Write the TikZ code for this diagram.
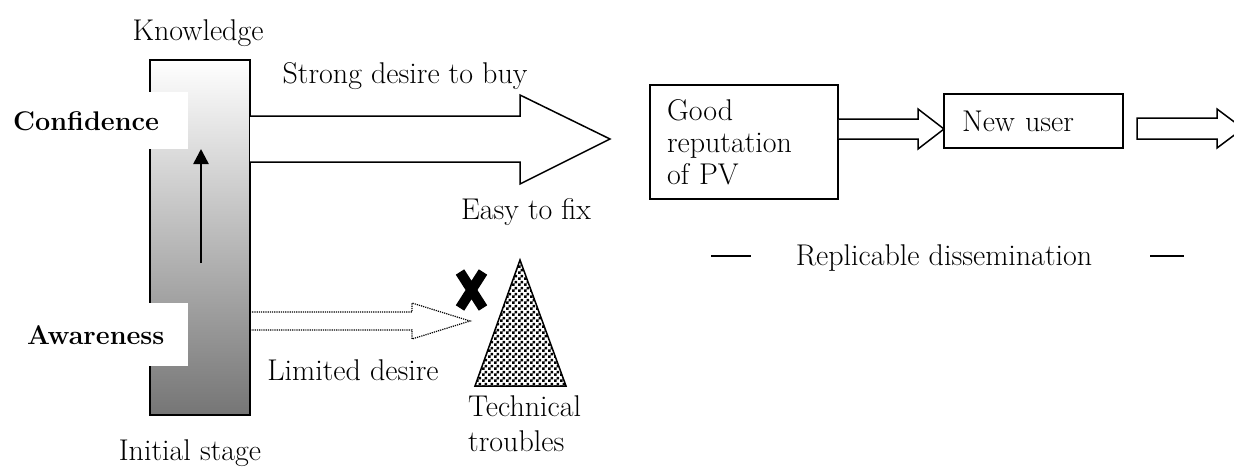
\documentclass[tikz,border=0pt]{standalone}
\usetikzlibrary{patterns,calc,arrows.meta}
\pgfdeclarepatternformonly{mycheck}{\pgfqpoint{0pt}{0pt}}{\pgfqpoint{5.6pt}{5.6pt}}{\pgfqpoint{5.6pt}{5.6pt}}{%
 \pgfpathrectangle{\pgfqpoint{0pt}{0pt}}{\pgfqpoint{2.8pt}{2.8pt}}%
 \pgfpathrectangle{\pgfqpoint{2.8pt}{2.8pt}}{\pgfqpoint{2.8pt}{2.8pt}}%
 \pgfusepath{fill}}
\begin{document}
\begin{tikzpicture}[x=1pt,y=-1pt,
  font=\fontsize{30}{32}\selectfont,
  lbl/.style={inner sep=0pt},
  bld/.style={inner sep=0pt, anchor=west, font=\fontsize{27}{32}\selectfont\bfseries},
  blk/.style={line width=1.5pt, line join=miter},
  box/.style={draw, line width=1.5pt, fill=white, inner sep=0pt, align=left}]
\useasboundingbox (0,0) rectangle (1234,466);
\clip (0,0) rectangle (1234,466);

% gradient bar
\node[draw, line width=1.6pt, top color=white, bottom color=black!54,
      minimum width=100pt, minimum height=355pt, inner sep=0pt] (bar) at (200,237.5) {};
\fill[white] (0,92) rectangle (188,149);
\fill[white] (0,303) rectangle (188,366);
\node[bld] (conf) at (13,121) {Confidence};
\node[bld] (aware) at (27,335) {Awareness};
\coordinate (upS) at (201,263);
\coordinate (upE) at (201,149);
\draw[line width=2.5pt, -{Triangle[length=15pt,width=15pt]}] (upS) -- (upE);

\node[lbl] (know) at (198,33) {Knowledge};
\node[lbl] (init) at (190,453) {Initial stage};

% big arrow
\draw[blk, fill=white] (250,116) -- (520,116) -- (520,95) -- (610,139) -- (520,184) -- (520,162) -- (250,162);
\node[lbl] (strong) at (405,76) {Strong desire to buy};
\node[lbl] (easy) at (526,212) {Easy to fix};

% dotted arrow
\draw[line width=1.2pt, densely dotted] (250,312) -- (412,312) -- (412,303) -- (470,321) -- (412,339) -- (412,330) -- (250,330);
\node[lbl] (limited) at (353,370) {Limited desire};

% cross
\draw[line width=10pt] (460,272) -- (483,308) (483,272) -- (460,308);

% triangle
\draw[line width=1.5pt, pattern=mycheck] (520,260) -- (566,386) -- (475,386) -- cycle;
\node[lbl, anchor=west, align=left, font=\fontsize{30}{35}\selectfont] (tech) at (468,424) {Technical\\troubles};

% right part
\node[box, minimum width=188pt, minimum height=114pt, text width=154pt] (good) at (744,142) {Good\\reputation\\of PV};
\node[box, minimum width=179pt, minimum height=54pt, text width=143pt] (new) at (1033.5,121) {New user};
\draw[blk, fill=white] ($(good.east)+(0,-23)$) -- (918,119) -- (918,109) -- (944,129) -- (918,149) -- (918,139) -- ($(good.east)+(0,-3)$);
\draw[blk, fill=white] (1137,118) -- (1217,118) -- (1217,109) -- (1243,128.5) -- (1217,148) -- (1217,139) -- (1137,139) -- cycle;

\node[lbl] (repl) at (944,258) {Replicable dissemination};
\coordinate (d1a) at (711,256); \coordinate (d1b) at (751,256);
\coordinate (d2a) at (1150,256); \coordinate (d2b) at (1184,256);
\draw[line width=1.5pt] (d1a) -- (d1b) (d2a) -- (d2b);
\end{tikzpicture}
\end{document}
